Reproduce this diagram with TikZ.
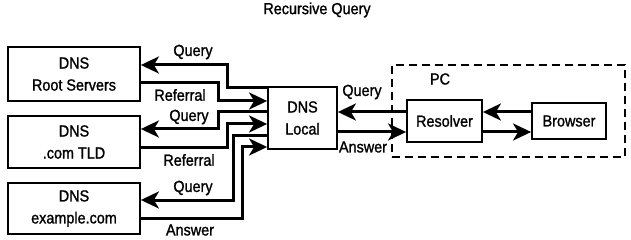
\documentclass[tikz,border=0pt]{standalone}
\usepackage{fontspec}
\setmainfont[FakeStretch=0.9, FakeBold=1.3]{Liberation Sans}
\usetikzlibrary{arrows.meta}

\newcommand{\lblfont}{\fontsize{16}{22}\selectfont}

\begin{document}
\begin{tikzpicture}[x=1pt, y=-1pt,
  box/.style={draw, line width=1.8pt, align=center, inner sep=0pt, font=\lblfont},
  arr/.style={-{Stealth[length=18pt, width=17pt, inset=5pt]}, line width=3pt},
  lbl/.style={font=\lblfont, inner sep=0pt}
]
\useasboundingbox (0,0) rectangle (631,240);
\node[lbl] (title) at (317,10) {Recursive Query};

% name servers on the left
\node[box, minimum width=132pt, minimum height=54pt] (root) at (74,74) {DNS\\Root Servers};
\node[box, minimum width=132pt, minimum height=52pt] (tld) at (74,142) {DNS\\.com TLD};
\node[box, minimum width=132pt, minimum height=51pt] (example) at (74,208.5) {DNS\\example.com};
\node[box, minimum width=69pt, minimum height=62pt] (local) at (302.5,118) {DNS\\Local};

% the PC
\node[draw, dash pattern=on 8pt off 5pt, line width=1.6pt, minimum width=233pt, minimum height=92pt] (pc) at (508.5,111) {};
\node[lbl] (pclabel) at (440,79) {PC};
\node[box, minimum width=75pt, minimum height=42pt] (resolver) at (444.5,121) {Resolver};
\node[box, minimum width=74pt, minimum height=36pt] (browser) at (569,121) {Browser};

% local server <-> root, tld, example.com
\draw[arr] (local.west |- 0,88) -| (227,65) -- (root.east |- 0,65);
\draw[arr] (root.east |- 0,83) -| (218,101) -- (local.west |- 0,101);
\draw[arr] (local.west |- 0,112) -| (218,129) -- (tld.east |- 0,129);
\draw[arr] (tld.east |- 0,148) -| (227,124) -- (local.west |- 0,124);
\draw[arr] (local.west |- 0,136) -| (233,200) -- (example.east |- 0,200);
\draw[arr] (example.east |- 0,218) -| (242,147) -- (local.west |- 0,147);

% resolver <-> local, browser <-> resolver
\draw[arr] (resolver.west |- 0,112) -- (local.east |- 0,112);
\draw[arr] (local.east |- 0,132) -- (resolver.west |- 0,132);
\draw[arr] (browser.west |- 0,112) -- (resolver.east |- 0,112);
\draw[arr] (resolver.east |- 0,132) -- (browser.west |- 0,132);

% labels
\node[lbl] (q1) at (193,52) {Query};
\node[lbl] (r1) at (180,95) {Referral};
\node[lbl] (q2) at (189,117) {Query};
\node[lbl] (r2) at (189,160) {Referral};
\node[lbl] (q3) at (193,188) {Query};
\node[lbl] (a3) at (190,230) {Answer};
\node[lbl] (q4) at (362,92) {Query};
\node[lbl] (a4) at (363,147) {Answer};
\end{tikzpicture}
\end{document}
